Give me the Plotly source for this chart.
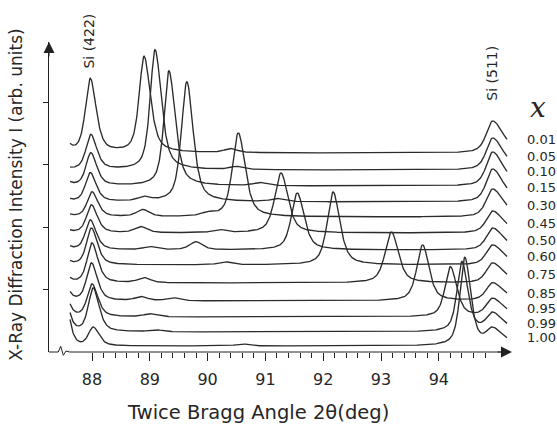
import numpy as np
import plotly.graph_objects as go

# ---------------- data ----------------
compositions = ["0.01", "0.05", "0.10", "0.15", "0.30", "0.45", "0.50",
                "0.60", "0.75", "0.85", "0.95", "0.99", "1.00"]
# vertical offset of each pattern (arb. units)
offsets = [199, 182, 166, 150, 135, 119, 102, 87, 69, 51, 35, 20, 6]
# alloy peak (position in deg, height, half widths left/right)
alloy_pos = [88.90, 89.09, 89.33, 89.64, 90.53, 91.27, 91.55, 92.17,
             93.18, 93.72, 94.20, 94.40, 94.45]
alloy_amp = [96, 120, 115, 120, 84, 60, 57, 73, 51, 56, 50, 70, 88]
alloy_hwl = [0.10, 0.10, 0.10, 0.11, 0.12, 0.13, 0.12, 0.12, 0.13, 0.12, 0.11, 0.10, 0.10]
alloy_hwr = [0.13, 0.13, 0.13, 0.13, 0.14, 0.14, 0.14, 0.14, 0.14, 0.13, 0.13, 0.12, 0.12]
# Si(422) substrate reflection
si422_pos = [87.97, 87.98, 87.98, 87.97, 88.00, 87.99, 87.97, 87.99,
             88.00, 87.99, 88.00, 88.02, 88.02]
si422_amp = [74, 35, 33, 29, 25, 28, 30, 37, 40, 38, 33, 44, 19]
# Si(511) substrate reflection
si511_pos = 94.93
si511_amp = [32, 32, 34, 33, 28, 22, 22, 20, 20, 18, 18, 18, 16]
# low-angle background at the start of each scan
low_angle_amp = [6, 1, 3, 2, 2, 2, 3, 3, 4, 8, 12, 18, 26]
# weak extra bumps (position, height) seen on some scans
bumps = [[(90.40, 4)], [(90.5, 3)], [(90.9, 3)], [(88.9, 4), (91.2, 3)],
         [(88.88, 7), (90.0, 3)], [(88.85, 6), (90.2, 3)], [(89.80, 8), (89.0, 3)],
         [(90.3, 3)], [(88.90, 5)], [(88.85, 4), (89.4, 3)], [(89.0, 3)],
         [(89.1, 2)], [(90.6, 2)]]

scan_start, scan_end, scan_step = 87.62, 95.18, 0.01
x_tick_labels = ["88", "89", "90", "91", "92", "93", "94"]
x_tick_vals = [88, 89, 90, 91, 92, 93, 94]

# ---------------- build the figure ----------------
two_theta = np.arange(scan_start, scan_end + 1e-9, scan_step)
LORENTZ_FRACTION = 0.6


def split_voigt(x, x0, amp, hl, hr):
    hw = np.where(x < x0, hl, hr)
    u = ((x - x0) / hw) ** 2
    lor = 1.0 / (1.0 + u)
    gau = np.exp(-np.log(2.0) * u)
    return amp * (LORENTZ_FRACTION * lor + (1 - LORENTZ_FRACTION) * gau)


fig = go.Figure()
end_values = []
for i, comp in enumerate(compositions):
    y = np.full_like(two_theta, float(offsets[i]))
    y += split_voigt(two_theta, alloy_pos[i], alloy_amp[i], alloy_hwl[i], alloy_hwr[i])
    y += split_voigt(two_theta, si422_pos[i], si422_amp[i], 0.10, 0.12)
    y += split_voigt(two_theta, si511_pos, si511_amp[i], 0.13, 0.22)
    y += low_angle_amp[i] * np.exp(-(two_theta - scan_start) / 0.07)
    for (bp, ba) in bumps[i]:
        y += split_voigt(two_theta, bp, ba, 0.13, 0.13)
    end_values.append(y[-1])
    fig.add_trace(go.Scatter(x=two_theta, y=y, mode="lines",
                             line=dict(color="#2b2b2b", width=1.35),
                             name=comp, showlegend=False, hoverinfo="skip"))

X_MIN, X_MAX = 87.256, 95.266
Y_MIN, Y_MAX = 0, 310
FONT = "DejaVu Sans"
TXT = "#262626"

minor_vals = [round(88 + 0.2 * k, 1) for k in range(0, 36) if (k % 5) != 0]

fig.update_layout(
    width=557, height=424,
    margin=dict(l=49, r=45, t=42, b=72),
    paper_bgcolor="white", plot_bgcolor="white",
    showlegend=False,
    xaxis=dict(range=[X_MIN, X_MAX], showgrid=False, zeroline=False, showline=False,
               tickmode="array", tickvals=x_tick_vals, ticktext=x_tick_labels,
               ticks="outside", ticklen=8, tickwidth=1, tickcolor="#222",
               tickfont=dict(family=FONT, size=16, color=TXT),
               ticklabelstandoff=5,
               minor=dict(tickmode="array", tickvals=minor_vals, ticks="outside",
                          ticklen=5, tickwidth=1, tickcolor="#222")),
    yaxis=dict(range=[Y_MIN, Y_MAX], showgrid=False, zeroline=False,
               showline=True, linecolor="#222", linewidth=1,
               tickmode="array", tickvals=[62.5, 125, 187.5, 250],
               ticks="outside", ticklen=5, tickcolor="#222", showticklabels=False),
)

# x axis line with the break mark
fig.add_shape(type="path", xref="paper", yref="paper",
              path="M 0,0 L 0.0201,0 L 0.0253,0.0184 L 0.0309,-0.0106 L 0.0367,0.003 L 0.045,0 L 0.985,0",
              line=dict(color="#222", width=1))

annotations = []
# arrow heads
annotations.append(dict(xref="paper", yref="paper", x=1.0, y=0, ax=-16, ay=0,
                        text="", showarrow=True, arrowhead=2, arrowsize=2.2,
                        arrowwidth=1, arrowcolor="#222"))
annotations.append(dict(xref="paper", yref="paper", x=0, y=1.0, ax=0, ay=16,
                        text="", showarrow=True, arrowhead=2, arrowsize=2.2,
                        arrowwidth=1, arrowcolor="#222"))
# axis titles
annotations.append(dict(xref="paper", yref="paper", x=0.451, y=-0.194,
                        text="Twice Bragg Angle 2θ(deg)", showarrow=False,
                        xanchor="center", yanchor="middle",
                        font=dict(family=FONT, size=19.5, color=TXT)))
annotations.append(dict(xref="paper", yref="paper", x=-0.07, y=0.506,
                        text="X-Ray Diffraction Intensity I (arb. units)", showarrow=False,
                        textangle=-90, xanchor="center", yanchor="middle",
                        font=dict(family=FONT, size=17, color=TXT)))
# reflection labels
annotations.append(dict(xref="paper", yref="paper", x=0.0875, y=1.003,
                        text="Si (422)", showarrow=False, textangle=-90,
                        xanchor="center", yanchor="middle",
                        font=dict(family=FONT, size=14, color=TXT)))
annotations.append(dict(xref="paper", yref="paper", x=0.956, y=0.90,
                        text="Si (511)", showarrow=False, textangle=-90,
                        xanchor="center", yanchor="middle",
                        font=dict(family=FONT, size=14, color=TXT)))
# composition header and labels
annotations.append(dict(xref="paper", yref="paper", x=1.056, y=0.79,
                        text="<i>x</i>", showarrow=False,
                        xanchor="center", yanchor="middle",
                        font=dict(family="DejaVu Serif", size=28, color=TXT)))
for comp, yv in zip(compositions, end_values):
    annotations.append(dict(xref="paper", yref="y", x=1.028, y=yv,
                            text=comp, showarrow=False,
                            xanchor="left", yanchor="middle",
                            font=dict(family=FONT, size=13, color=TXT)))
fig.update_layout(annotations=annotations)

fig.write_html("out.html")
